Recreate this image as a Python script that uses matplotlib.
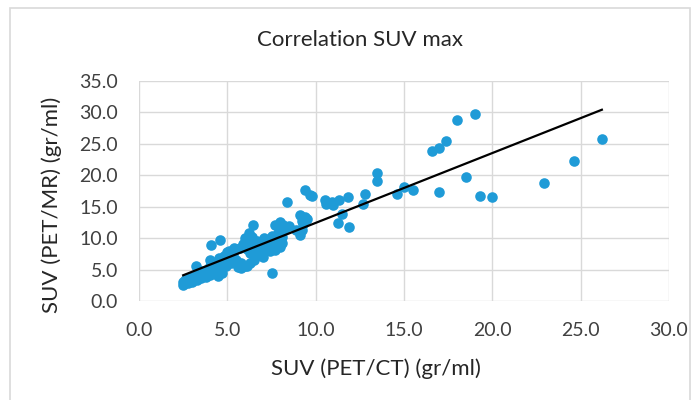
import numpy as np
import matplotlib.pyplot as plt
from matplotlib.patches import Rectangle

plt.rcParams['font.family'] = ['Lato', 'DejaVu Sans']

# SUV max, PET/CT vs PET/MR (gr/ml)
suv_ct = [2.5, 2.5, 2.6, 2.6, 2.7, 2.8, 2.8, 2.9, 3.0, 3.0, 3.1, 3.2, 3.2,
          3.3, 3.4, 3.5, 3.5, 3.6, 3.7, 3.8, 3.8, 3.9, 4.0, 4.0, 4.0, 4.1,
          4.2, 4.2, 4.3, 4.4, 4.45, 4.5, 4.5, 4.6, 4.7, 4.7, 4.8, 4.9, 5.0,
          5.0, 5.1, 5.2, 5.3, 5.4, 5.5, 5.6, 5.7, 5.8, 5.8, 5.9, 6.0, 6.0,
          6.1, 6.1, 6.2, 6.2, 6.3, 6.3, 6.4, 6.47, 6.5, 6.5, 6.6, 6.7, 6.8,
          6.9, 7.0, 7.0, 7.1, 7.2, 7.3, 7.4, 7.5, 7.5, 7.6, 7.7, 7.7, 7.8,
          7.85, 7.98, 8.0, 8.0, 8.1, 8.1, 8.17, 8.2, 8.3, 8.4, 8.5, 8.9,
          9.1, 9.1, 9.2, 9.2, 9.3, 9.4, 9.4, 9.5, 9.7, 9.77, 10.5, 10.6,
          10.9, 11.0, 11.28, 11.3, 11.47, 11.85, 11.9, 12.7, 12.8, 13.45,
          13.45, 14.6, 15.0, 15.5, 16.6, 17.0, 17.0, 17.4, 18.0, 18.5,
          19.03, 19.3, 20.0, 22.9, 24.6, 26.2]
suv_mr = [2.6, 3.0, 3.4, 2.8, 3.2, 3.6, 2.9, 3.3, 3.8, 3.0, 3.5, 4.0, 5.5,
          3.4, 4.2, 3.7, 4.8, 4.0, 4.4, 3.8, 5.0, 4.6, 6.5, 5.5, 4.2, 8.9,
          5.0, 6.0, 4.5, 5.8, 3.9, 6.8, 5.0, 9.7, 4.4, 6.2, 7.2, 5.5, 7.8,
          6.6, 8.0, 6.0, 7.4, 8.4, 6.5, 5.4, 8.5, 6.0, 5.2, 9.0, 10.0, 5.6,
          8.2, 5.5, 10.8, 9.4, 7.6, 6.0, 10.2, 12.1, 8.8, 6.6, 7.2, 9.6, 7.8,
          8.6, 9.0, 7.0, 10.0, 8.2, 9.5, 8.0, 4.5, 10.4, 9.0, 8.1, 12.1, 9.8,
          10.8, 12.6, 11.6, 8.6, 9.2, 10.2, 12.1, 11.3, 11.8, 15.7, 12.0, 11.3,
          13.7, 10.5, 12.8, 11.3, 12.2, 13.4, 17.6, 13.1, 16.8, 16.7, 16.1, 15.5,
          15.8, 15.3, 12.45, 16.1, 13.9, 16.6, 11.8, 15.4, 17.1, 20.4,
          19.1, 17.1, 18.2, 17.7, 23.9, 24.3, 17.3, 25.5, 28.8, 19.7,
          29.7, 16.7, 16.5, 18.8, 22.2, 25.7]

x_ticks = [0, 5, 10, 15, 20, 25, 30]
y_ticks = [0, 5, 10, 15, 20, 25, 30, 35]

x = np.array(suv_ct)
y = np.array(suv_mr)
slope, intercept = np.polyfit(x, y, 1)
xl = np.array([x.min(), x.max()])

fig = plt.figure(figsize=(6.97, 4.0), dpi=100)
ax = fig.add_axes([139 / 697, 1 - 301 / 400, 530 / 697, 220 / 400])

# chart frame like the spreadsheet export
fig.patches.append(Rectangle((10 / 697, -0.1), 680 / 697, 1.1 - 8 / 400,
                             transform=fig.transFigure, fill=False,
                             edgecolor='#d9d9d9', lw=1.2))

ax.scatter(x, y, s=58, color='#1f9bd7', zorder=3, linewidths=0)
ax.plot(xl, slope * xl + intercept, color='black', lw=1.6, zorder=4)

ax.set_xlim(0, 30)
ax.set_ylim(0, 35)
ax.set_xticks(x_ticks)
ax.set_yticks(y_ticks)
ax.set_xticklabels([f'{t:.1f}' for t in x_ticks])
ax.set_yticklabels([f'{t:.1f}' for t in y_ticks])
ax.grid(True, color='#d9d9d9', lw=1.0)
ax.set_axisbelow(True)
for s in ax.spines.values():
    s.set_visible(False)
ax.tick_params(length=0, labelsize=14, colors='#404040', pad=15)

fig.text(360 / 697, 1 - 40 / 400, 'Correlation SUV max', ha='center', va='center',
         fontsize=16, color='#262626')
fig.text(376 / 697, 1 - 369 / 400, 'SUV (PET/CT) (gr/ml)', ha='center', va='center',
         fontsize=16, color='#262626')
fig.text(52 / 697, 1 - 205 / 400, 'SUV (PET/MR) (gr/ml)', ha='center', va='center',
         rotation=90, fontsize=16, color='#262626')

fig.savefig('out.png', dpi=100)
